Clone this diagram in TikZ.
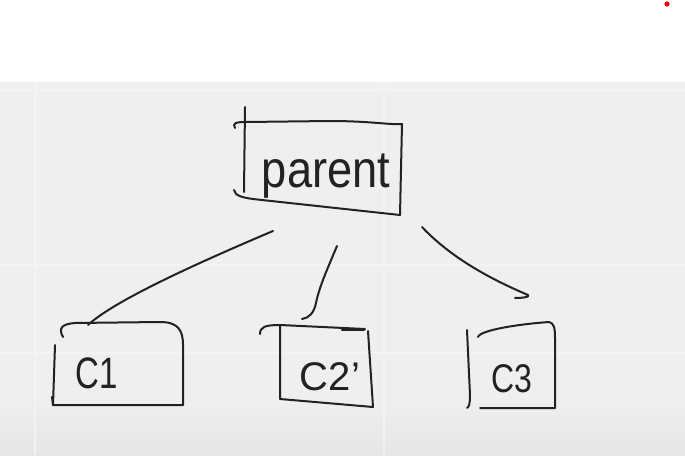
\documentclass[tikz,border=0pt]{standalone}
\usepackage{fontspec}
\setmainfont{Liberation Sans}
\begin{document}
\begin{tikzpicture}[x=1pt,y=-1pt,
  ink/.style={draw=inkc,line width=2pt,line cap=round,line join=round},
  hand/.style={text=inkc,inner sep=0pt,font=\fontsize{40}{40}\selectfont},
  gridl/.style={draw=gridc,line width=1.6pt}]
\definecolor{inkc}{HTML}{222222}
\definecolor{bgc}{HTML}{EFEFEF}
\definecolor{bgd}{HTML}{E6E6E6}
\definecolor{gridc}{HTML}{F3F3F3}
\useasboundingbox (0,0) rectangle (685,455);
% background
\fill[white] (0,0) rectangle (685,82);
\fill[bgc] (0,82) rectangle (685,400);
\shade[top color=bgc,bottom color=bgd] (0,399.5) rectangle (685,455);
\draw[gridl] (0,90) -- (685,90);
\draw[gridl] (0,265) -- (685,265);
\draw[gridl] (0,353) -- (685,353);
\draw[gridl] (35,82) -- (35,455);
\draw[gridl] (384,82) -- (384,455);
\fill[red] (667,4) circle (2.6);
% text nodes
\node[hand,anchor=base,font=\fontsize{52}{52}\selectfont,xscale=0.87] (parent) at (326,187) {parent};
\node[hand,xscale=0.75,font=\fontsize{44}{44}\selectfont] (c1) at (97,373) {C1};
\node[hand] (c2) at (330,377) {C2'};
\node[hand,xscale=0.8] (c3) at (512,379) {C3};
% parent box
\draw[ink] (235,128) .. controls (232,123) and (236,122) .. (246,122) -- (330,121) .. controls (370,121) and (390,125) .. (402,124) -- (400,215);
\draw[ink] (234,190) .. controls (235,196) and (242,198) .. (262,200) -- (400,215);
\draw[ink] (245,107) -- (244,192);
% C1 box
\draw[ink] (63,337) .. controls (58,328) and (62,324) .. (75,323) -- (160,322) .. controls (178,322) and (183,330) .. (183,345) -- (183,405) -- (53,405);
\draw[ink] (55,345) -- (53,405) -- (52,397);
% C2 box
\draw[ink] (260,334) .. controls (260,327) and (265,325) .. (280,325) -- (365,329);
\draw[ink,line width=2.4pt] (342,330) -- (364,330);
\draw[ink] (280,325) -- (280,399) -- (373,407) -- (368,331);
% C3 box
\draw[ink] (467,330) -- (470,395) .. controls (470,404) and (469,407) .. (467,408);
\draw[ink] (478,337) .. controls (480,330) and (520,324) .. (549,322) .. controls (554,323) and (555,328) .. (555,338) -- (555,408) -- (480,408);
% connectors
\coordinate (pL) at (273,231);
\coordinate (pM) at (337,246);
\coordinate (pR) at (422,227);
\coordinate (c1T) at (88,325);
\coordinate (c2T) at (302,319);
\coordinate (c3T) at (515,298);
\draw[ink] (pL) .. controls (200,262) and (115,300) .. (c1T);
\draw[ink] (pM) .. controls (326,272) and (319,288) .. (316,303) .. controls (314,313) and (309,318) .. (c2T);
\draw[ink] (pR) .. controls (455,262) and (500,283) .. (528,295) .. controls (531,297) and (522,298) .. (c3T);
\end{tikzpicture}
\end{document}
